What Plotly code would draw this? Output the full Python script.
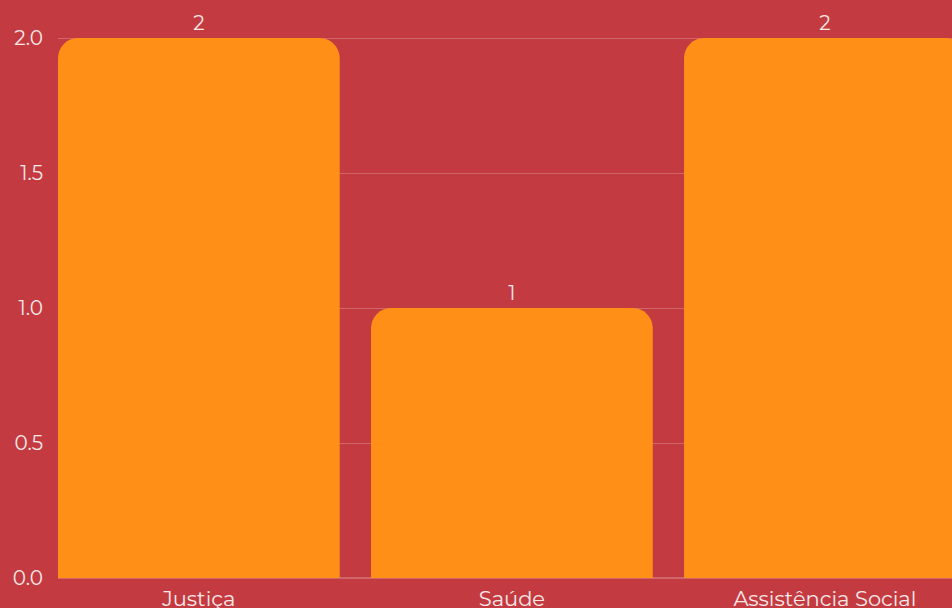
import plotly.graph_objects as go

categories = ["Justiça", "Saúde", "Assistência Social"]
values = [2, 1, 2]
y_ticks = [0, 0.5, 1, 1.5, 2]
y_tick_labels = ["0.0", "0.5", "1.0", "1.5", "2.0"]

bg = "#C33B41"
bar_color = "#FF8F16"
txt = "#F7E8E8"
font_family = "Montserrat, Lato, 'Open Sans', sans-serif"

fig = go.Figure(
    go.Bar(
        x=categories,
        y=values,
        marker=dict(color=bar_color, line=dict(width=0)),
        text=[str(v) for v in values],
        textposition="outside",
        textfont=dict(color=txt, size=20, family=font_family),
        cliponaxis=False,
    )
)

fig.update_layout(
    width=952,
    height=608,
    margin=dict(l=58, r=0, t=37, b=30, autoexpand=False),
    paper_bgcolor=bg,
    plot_bgcolor=bg,
    bargap=0.1,
    barcornerradius=20,
    showlegend=False,
    font=dict(family=font_family, color=txt, size=20),
)
fig.update_xaxes(
    range=[-0.45, 2.406],
    showgrid=False,
    automargin=False,
    tickfont=dict(size=21, color=txt, family=font_family),
    ticks="",
    ticklen=0,
    ticklabelstandoff=6,
)
fig.update_yaxes(
    range=[0, 2.004],
    tickvals=y_ticks,
    ticktext=y_tick_labels,
    showgrid=True,
    automargin=False,
    gridcolor="rgba(255,255,255,0.22)",
    gridwidth=1,
    zeroline=True,
    zerolinecolor="rgba(255,255,255,0.22)",
    tickfont=dict(size=20, color=txt, family=font_family),
    ticks="",
    ticklabelstandoff=14,
)

fig.write_html("out.html")
